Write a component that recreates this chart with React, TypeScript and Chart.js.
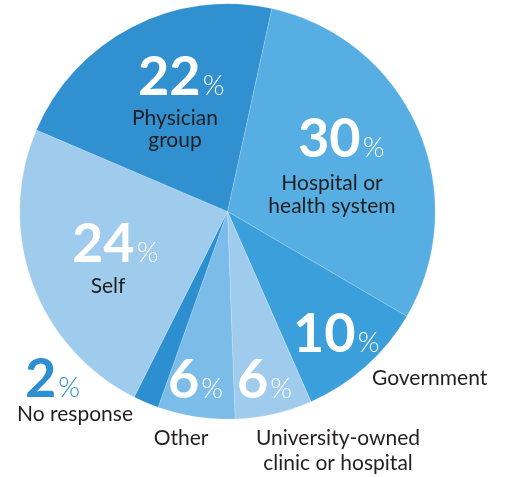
import React, { useEffect, useRef } from "react";
import { Chart, registerables } from "chart.js";

Chart.register(...registerables);

const categories = [
  "Hospital or health system",
  "Government",
  "University-owned clinic or hospital",
  "Other",
  "No response",
  "Self",
  "Physician group",
];
const values = [30, 10, 6, 6, 2, 24, 22];
const sliceColors = ["#56aee2", "#3a9fdb", "#9fcbed", "#7cbce8", "#2e8fd0", "#9fcbec", "#3090d0"];

const labelLayout = [
  { nx: 298, ny: 157, color: "#ffffff", lines: ["Hospital or", "health system"], lx: 332, ly: [190, 213], align: "center" },
  { nx: 293, ny: 352, color: "#ffffff", lines: ["Government"], lx: 372, ly: [385], align: "left" },
  { nx: 237, ny: 398, color: "#ffffff", lines: ["University-owned", "clinic or hospital"], lx: 338, ly: [445, 470], align: "center" },
  { nx: 168, ny: 398, color: "#ffffff", lines: ["Other"], lx: 181, ly: [445], align: "center" },
  { nx: 25, ny: 397, color: "#2e8fd0", lines: ["No response"], lx: 75, ly: [421], align: "center" },
  { nx: 72, ny: 262, color: "#ffffff", lines: ["Self"], lx: 108, ly: [293], align: "center" },
  { nx: 138, ny: 95, color: "#ffffff", lines: ["Physician", "group"], lx: 175, ly: [125, 147], align: "center" },
];

const labelPlugin = {
  id: "sliceLabels",
  afterDraw(chart: any) {
    const ctx = chart.ctx;
    const data = chart.data.datasets[0].data;
    ctx.save();
    labelLayout.forEach((l, i) => {
      const num = String(data[i]);
      ctx.textBaseline = "alphabetic";
      ctx.textAlign = "left";
      ctx.fillStyle = l.color;
      ctx.font = "bold 54px Lato";
      ctx.fillText(num, l.nx, l.ny);
      const w = ctx.measureText(num).width;
      ctx.font = "300 28px Lato";
      ctx.fillText("%", l.nx + w + 2, l.ny);
      ctx.fillStyle = "#231f20";
      ctx.font = "21px Lato";
      ctx.textAlign = l.align;
      l.lines.forEach((t, j) => ctx.fillText(t, l.lx, l.ly[j]));
    });
    ctx.restore();
  },
};

export default function App() {
  const ref = useRef<HTMLCanvasElement>(null);
  useEffect(() => {
    const chart = new Chart(ref.current!, {
      type: "pie",
      data: {
        labels: categories,
        datasets: [
          {
            data: values,
            backgroundColor: sliceColors,
            borderWidth: 0.5,
            borderColor: "rgba(255,255,255,0.35)",
          },
        ],
      },
      options: {
        responsive: false,
        animation: false,
        rotation: 12.3,
        layout: { padding: { left: 19.5, right: 70.5, top: 3.5, bottom: 57.5 } },
        plugins: { legend: { display: false }, tooltip: { enabled: false } },
      },
      plugins: [labelPlugin],
    });
    return () => chart.destroy();
  }, []);
  return (
    <div style={{ position: "absolute", left: 0, top: 0, width: 506, height: 477, background: "#fff" }}>
      <canvas ref={ref} width={506} height={477} />
    </div>
  );
}
